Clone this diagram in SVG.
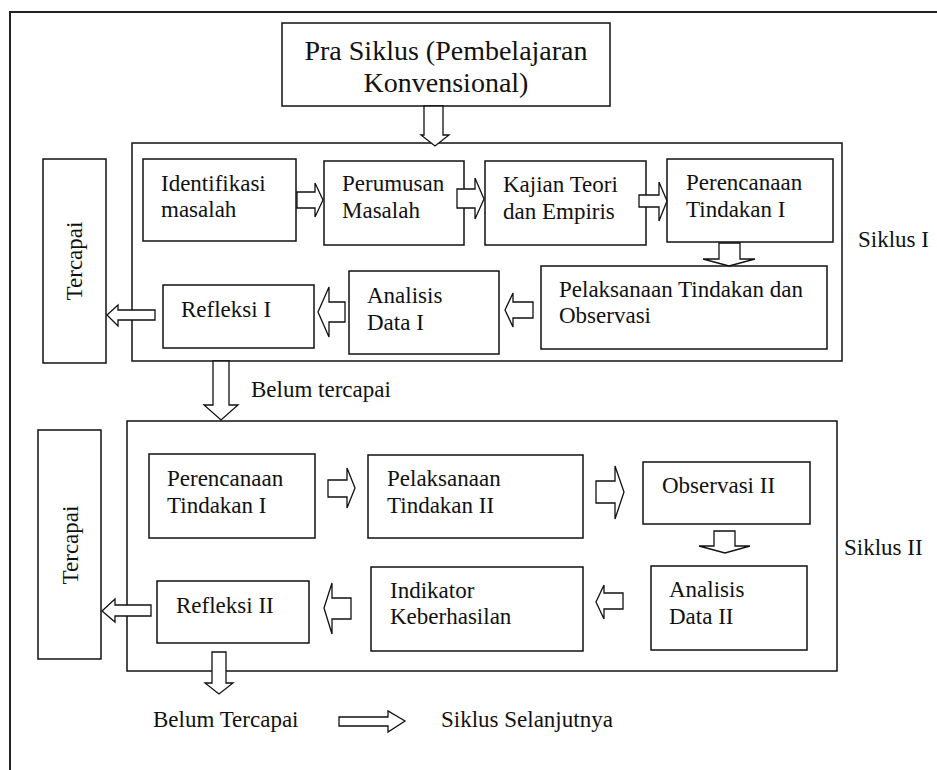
<svg xmlns="http://www.w3.org/2000/svg" width="937" height="770" viewBox="0 0 937 770">
  <style>
    .frame { fill: none; stroke: #222; stroke-width: 2; }
    .box { fill: #fff; stroke: #111; stroke-width: 1.5; }
    .group { fill: none; stroke: #111; stroke-width: 1.5; }
    .arrow { fill: #fff; stroke: #111; stroke-width: 1.3; stroke-linejoin: miter; }
    text { font-family: "Liberation Serif", "Times New Roman", serif; font-size: 23px; fill: #111; }
    .title { font-size: 28px; }
  </style>

  <!-- outer page frame (right and bottom edges run past the canvas) -->
  <rect class="frame" x="10" y="12" width="940" height="780"/>

  <!-- cycle containers -->
  <g id="siklus1">
    <rect class="group" x="132" y="143" width="710" height="218"/>
    <text x="858" y="247">Siklus I</text>
  </g>
  <g id="siklus2">
    <rect class="group" x="127" y="421" width="710" height="250"/>
    <text x="844" y="555">Siklus II</text>
  </g>

  <!-- nodes -->
  <g id="pra-siklus">
    <rect class="box" x="282" y="23" width="328" height="83"/>
    <text class="title" x="446" y="60" text-anchor="middle">Pra Siklus (Pembelajaran</text>
    <text class="title" x="446" y="92" text-anchor="middle">Konvensional)</text>
  </g>

  <g id="identifikasi">
    <rect class="box" x="143" y="159" width="153" height="82"/>
    <text x="161" y="191">Identifikasi</text>
    <text x="161" y="217">masalah</text>
  </g>
  <g id="perumusan">
    <rect class="box" x="324" y="161" width="140" height="84"/>
    <text x="342" y="191">Perumusan</text>
    <text x="342" y="218">Masalah</text>
  </g>
  <g id="kajian">
    <rect class="box" x="485" y="161" width="161" height="84"/>
    <text x="503" y="192">Kajian Teori</text>
    <text x="503" y="219">dan Empiris</text>
  </g>
  <g id="perencanaan1">
    <rect class="box" x="667" y="159" width="166" height="83"/>
    <text x="686" y="190">Perencanaan</text>
    <text x="686" y="217">Tindakan I</text>
  </g>
  <g id="pelaksanaan1">
    <rect class="box" x="541" y="266" width="286" height="83"/>
    <text x="559" y="297">Pelaksanaan Tindakan dan</text>
    <text x="559" y="323">Observasi</text>
  </g>
  <g id="analisis1">
    <rect class="box" x="349" y="271" width="150" height="83"/>
    <text x="367" y="303">Analisis</text>
    <text x="367" y="330">Data I</text>
  </g>
  <g id="refleksi1">
    <rect class="box" x="163" y="285" width="151" height="63"/>
    <text x="181" y="317">Refleksi I</text>
  </g>
  <g id="tercapai1">
    <rect class="box" x="43" y="159" width="63" height="204"/>
    <text transform="translate(82,261) rotate(-90)" text-anchor="middle">Tercapai</text>
  </g>

  <g id="perencanaan2">
    <rect class="box" x="149" y="454" width="166" height="84"/>
    <text x="167" y="486">Perencanaan</text>
    <text x="167" y="513">Tindakan I</text>
  </g>
  <g id="pelaksanaan2">
    <rect class="box" x="368" y="455" width="215" height="83"/>
    <text x="387" y="486">Pelaksanaan</text>
    <text x="387" y="513">Tindakan II</text>
  </g>
  <g id="observasi2">
    <rect class="box" x="643" y="462" width="167" height="62"/>
    <text x="662" y="493">Observasi II</text>
  </g>
  <g id="analisis2">
    <rect class="box" x="651" y="566" width="156" height="84"/>
    <text x="669" y="597">Analisis</text>
    <text x="669" y="624">Data II</text>
  </g>
  <g id="indikator">
    <rect class="box" x="371" y="567" width="212" height="84"/>
    <text x="390" y="598">Indikator</text>
    <text x="390" y="624">Keberhasilan</text>
  </g>
  <g id="refleksi2">
    <rect class="box" x="157" y="581" width="152" height="62"/>
    <text x="176" y="613">Refleksi II</text>
  </g>
  <g id="tercapai2">
    <rect class="box" x="38" y="430" width="63" height="229"/>
    <text transform="translate(78,545) rotate(-90)" text-anchor="middle">Tercapai</text>
  </g>

  <g id="labels">
    <text x="251" y="397">Belum tercapai</text>
    <text x="153" y="727">Belum Tercapai</text>
    <text x="441" y="727">Siklus Selanjutnya</text>
  </g>

  <!-- block arrows -->
  <g id="connectors">
    <!-- pra siklus -> siklus I -->
    <polygon class="arrow" points="424,106 443,106 443,135 449,135 435,146 421,135 424,135"/>
    <!-- identifikasi -> perumusan -->
    <polygon class="arrow" points="297,192 315,192 315,183 323,200 315,217 315,208 297,208"/>
    <!-- perumusan -> kajian -->
    <polygon class="arrow" points="457,189 475,189 475,178 484,199 475,219 475,208 457,208"/>
    <!-- kajian -> perencanaan I -->
    <polygon class="arrow" points="639,195 659,195 659,182 667,201 659,221 659,207 639,207"/>
    <!-- perencanaan I -> pelaksanaan -->
    <polygon class="arrow" points="719,243 740,243 740,259 755,259 729,266 703,259 719,259"/>
    <!-- pelaksanaan -> analisis I -->
    <polygon class="arrow" points="533,302 513,302 513,293 505,310 513,327 513,318 533,318"/>
    <!-- analisis I -> refleksi I -->
    <polygon class="arrow" points="345,302 329,302 329,287 318,312 329,337 329,322 345,322"/>
    <!-- refleksi I -> tercapai -->
    <polygon class="arrow" points="155,310 118,310 118,305 107,315 118,326 118,320 155,320"/>
    <!-- siklus I -> siklus II (belum tercapai) -->
    <polygon class="arrow" points="213,361 229,361 229,405 238,405 221,420 204,405 213,405"/>
    <!-- perencanaan II -> pelaksanaan II -->
    <polygon class="arrow" points="328,480 347,480 347,468 355,488 347,508 347,497 328,497"/>
    <!-- pelaksanaan II -> observasi II -->
    <polygon class="arrow" points="596,481 615,481 615,466 624,492 615,519 615,503 596,503"/>
    <!-- observasi II -> analisis II -->
    <polygon class="arrow" points="714,531 735,531 735,546 750,546 725,553 699,546 714,546"/>
    <!-- analisis II -> indikator -->
    <polygon class="arrow" points="623,593 604,593 604,585 596,602 604,619 604,609 623,609"/>
    <!-- indikator -> refleksi II -->
    <polygon class="arrow" points="351,598 332,598 332,583 324,608 332,634 332,619 351,619"/>
    <!-- refleksi II -> tercapai -->
    <polygon class="arrow" points="151,605 115,605 115,599 102,611 115,622 115,616 151,616"/>
    <!-- refleksi II -> belum tercapai -->
    <polygon class="arrow" points="212,652 226,652 226,683 233,683 219,694 205,683 212,683"/>
    <!-- belum tercapai -> siklus selanjutnya -->
    <polygon class="arrow" points="339,717 388,717 388,711 405,721 388,732 388,726 339,726"/>
  </g>
</svg>
